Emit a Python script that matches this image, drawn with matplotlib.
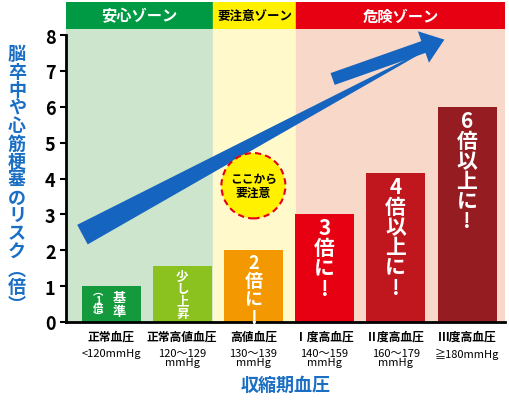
import matplotlib
matplotlib.use("Agg")
import matplotlib.pyplot as plt
from matplotlib.patches import Ellipse

plt.rcParams['font.family'] = ['Noto Sans CJK JP', 'DejaVu Sans']

categories = ["正常血圧", "正常高値血圧", "高値血圧", "Ⅰ度高血圧", "Ⅱ度高血圧", "Ⅲ度高血圧"]
ranges = ["<120mmHg", "120～129\nmmHg", "130～139\nmmHg", "140～159\nmmHg", "160～179\nmmHg", "≧180mmHg"]
values = [1.0, 1.55, 2.0, 3.0, 4.15, 6.0]
bar_labels = ["基\n準", "少\nし\n上\n昇", "2\n倍\nに\n!", "3\n倍\nに\n!", "4\n倍\n以\n上\nに\n!", "6\n倍\n以\n上\nに\n!"]
zones = ["安心ゾーン", "要注意ゾーン", "危険ゾーン"]
bar_colors = ["#14993c", "#8cc21f", "#f39800", "#e60012", "#c0161e", "#951d22"]
blue = "#1a6fc4"

fig = plt.figure(figsize=(5.1, 4.1), dpi=100)
ax = fig.add_axes([66/510, 87/410, 439/510, 293/410])
x0 = 111; step = 71.2
def dx(p): return (p - x0) / step
xl, xr = dx(66), dx(505)
ax.set_xlim(xl, xr)
ax.set_ylim(0, 8.17)
b1, b2 = dx(213), dx(296)
ax.axvspan(xl, b1, color="#cce5cc", zorder=0)
ax.axvspan(b1, b2, color="#fff9cc", zorder=0)
ax.axvspan(b2, xr, color="#f8d8c8", zorder=0)

xs = list(range(len(values)))
ax.bar(xs, values, width=59/step, color=bar_colors, zorder=2)

# arrow
ax.annotate("", xy=(dx(447), 7.9), xytext=(dx(80), 2.4),
            arrowprops=dict(arrowstyle="wedge,tail_width=1.6,shrink_factor=0.5",
                            color="#1565c0", lw=0), zorder=3)
ax.annotate("", xy=(dx(447), 7.9), xytext=(dx(330), 6.75),
            arrowprops=dict(arrowstyle="simple,head_length=1.6,head_width=2.4,tail_width=0.9",
                            color="#1565c0", lw=0), zorder=3)

# bar texts
sizes = [10, 9, 13, 15, 15, 15]
for i, (v, t) in enumerate(zip(values, bar_labels)):
    if i == 0:
        ax.text(i + 0.12, v / 2, t, ha="center", va="center", color="white",
                fontsize=9.5, fontweight="bold", linespacing=1.0, zorder=4)
        ax.text(i - 0.18, v / 2, "︵\n1\n倍\n︶", ha="center", va="center", color="white",
                fontsize=7.5, fontweight="bold", linespacing=0.85, zorder=4)
    else:
        ax.text(i, v - 0.08, t, ha="center", va="top", color="white",
                fontsize=sizes[i], fontweight="bold", linespacing=0.95, zorder=4)

# callout circle
ax.add_patch(Ellipse((2, 3.8), 64/step, 64/287*8.17, facecolor="#fff100",
                     edgecolor="#e60012", ls=(0, (3, 2)), lw=1.5, zorder=4))
ax.text(2, 3.8, "ここから\n要注意", ha="center", va="center", fontsize=8.5,
        fontweight="bold", linespacing=1.1, zorder=5)

ax.set_yticks(range(0, 9))
ax.tick_params(axis="y", labelsize=13, width=1.5, length=4)
for lab in ax.get_yticklabels():
    lab.set_fontweight("bold")
ax.set_xticks(xs)
ax.set_xticklabels([])
ax.tick_params(axis="x", length=0)
for s in ["top", "right"]:
    ax.spines[s].set_visible(False)
ax.spines["left"].set_bounds(0, 8)
ax.spines["left"].set_linewidth(2)
ax.spines["bottom"].set_linewidth(2)

for i, (c, r) in enumerate(zip(categories, ranges)):
    ax.text(i, -0.2, c, ha="center", va="top", fontsize=8.5, fontweight="bold",
            clip_on=False)
    ax.text(i, -0.72, r, ha="center", va="top", fontsize=8, linespacing=0.9,
            clip_on=False)

fig.text(286/510, 1 - 385/410, "収縮期血圧", ha="center", va="center", fontsize=13,
         fontweight="bold", color=blue)
fig.text(17/510, 1 - 180/410, "\n".join("脳卒中や心筋梗塞のリスク") + "\n︵\n倍\n︶", ha="center", va="center",
         fontsize=13, fontweight="bold", color=blue, linespacing=0.93)

# header band
hx = fig.add_axes([66/510, 1 - 30/410, 439/510, 27/410])
hx.set_xlim(xl, xr); hx.set_ylim(0, 1); hx.axis("off")
for (a, b), col, z, tc, fs in zip([(xl, b1), (b1, b2), (b2, xr)],
                                   ["#009944", "#fff100", "#e60012"], zones,
                                   ["white", "black", "white"], [11, 9, 11]):
    hx.axvspan(a, b, color=col)
    hx.text((a + b) / 2, 0.5, z, ha="center", va="center", color=tc,
            fontsize=fs, fontweight="bold")

fig.savefig("out.png", dpi=100)
